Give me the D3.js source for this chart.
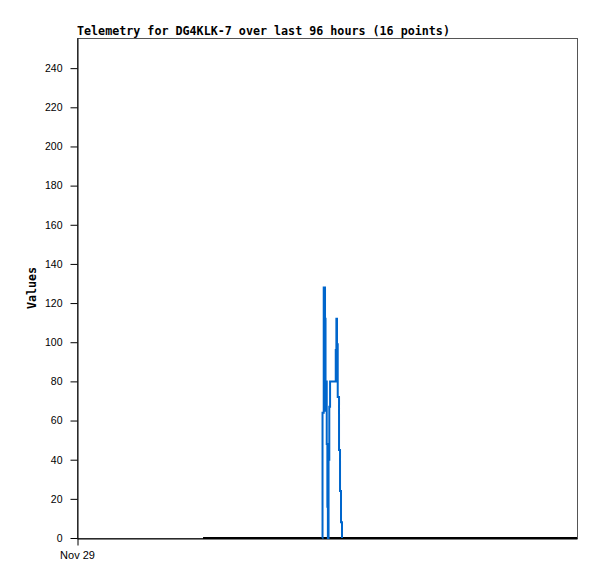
<!DOCTYPE html>
<html lang="en">
  <head>
    <meta charset="UTF-8" />
    <title>Telemetry</title>
    <script src="https://d3js.org/d3.v7.min.js"></script>
    <style>
      body {
        margin: 0;
        background: #fff;
      }
    </style>
  </head>
  <body>
    <div id="chart"></div>
    <script>
      // data: hours after Nov 29 00:00, telemetry values
      const startTime = new Date(2023, 10, 29, 0, 0);
      const spanHours = 96;
      const blueHours = [
        47.1, 47.14, 47.37, 47.62, 47.72, 47.85, 47.95, 48.07, 48.17, 48.3,
        48.44, 48.59, 49.68, 49.8, 49.92, 50.06, 50.31, 50.5, 50.69, 50.88,
      ];
      const blueValues = [
        0, 64, 128, 112, 65, 80, 48, 16, 0, 40, 67, 80, 96, 112, 99, 72, 45,
        24, 8, 0,
      ];
      const blackHours = [24.2, 96];
      const blackValues = [0, 0];
      const yTicks = [0, 20, 40, 60, 80, 100, 120, 140, 160, 180, 200, 220, 240];
      const xTickLabels = ["Nov 29"];

      const width = 597;
      const height = 579;
      const margin = { top: 38, right: 20, bottom: 41, left: 77 };
      const innerW = width - margin.left - margin.right;
      const innerH = height - margin.top - margin.bottom;

      const hourToDate = (h) => new Date(startTime.getTime() + h * 3600000);

      const x = d3
        .scaleTime()
        .domain([startTime, hourToDate(spanHours)])
        .range([0, innerW]);
      const y = d3.scaleLinear().domain([0, 255.4]).range([innerH, 0]);

      const svg = d3
        .select("#chart")
        .append("svg")
        .attr("width", width)
        .attr("height", height);

      const g = svg
        .append("g")
        .attr("transform", `translate(${margin.left},${margin.top})`);

      // frame
      g.append("rect")
        .attr("x", 0.5)
        .attr("y", 0.5)
        .attr("width", innerW)
        .attr("height", innerH)
        .attr("fill", "none")
        .attr("stroke", "#555");

      // title
      svg
        .append("text")
        .attr("x", margin.left)
        .attr("y", 35)
        .attr("font-family", "DejaVu Sans Mono, monospace")
        .attr("font-weight", "bold")
        .attr("font-size", "11.7px")
        .text("Telemetry for DG4KLK-7 over last 96 hours (16 points)");

      // y axis
      const yAxis = g
        .append("g")
        .attr("transform", "translate(0.5,0)")
        .call(d3.axisLeft(y).tickValues(yTicks).tickSize(7).tickPadding(8).tickSizeOuter(0));
      yAxis.select(".domain").attr("stroke", "#000");
      yAxis
        .selectAll("text")
        .attr("font-family", "Liberation Sans, Arial, sans-serif")
        .attr("font-size", "10.5px")
        .attr("fill", "#000");

      // x axis
      const xAxis = g
        .append("g")
        .attr("transform", `translate(0,${innerH + 0.5})`)
        .call(
          d3
            .axisBottom(x)
            .tickValues([startTime])
            .tickFormat((d, i) => xTickLabels[i])
            .tickSize(7)
            .tickPadding(6)
            .tickSizeOuter(0)
        );
      xAxis.select(".domain").attr("stroke", "#000");
      xAxis.selectAll(".tick line").attr("transform", "translate(0.5,0)");
      xAxis
        .selectAll("text")
        .attr("font-family", "Liberation Sans, Arial, sans-serif")
        .attr("font-size", "11px")
        .attr("fill", "#000");

      // y label
      svg
        .append("text")
        .attr("transform", "translate(36,288) rotate(-90)")
        .attr("text-anchor", "middle")
        .attr("font-family", "DejaVu Sans Mono, monospace")
        .attr("font-weight", "bold")
        .attr("font-size", "11.7px")
        .text("Values");

      const line = d3
        .line()
        .x((d) => x(hourToDate(d.h)))
        .y((d) => y(d.v))
        .curve(d3.curveStepAfter);

      const blackData = blackHours.map((h, i) => ({ h, v: blackValues[i] }));
      const blueData = blueHours.map((h, i) => ({ h, v: blueValues[i] }));

      g.append("path")
        .datum(blackData)
        .attr("d", line)
        .attr("fill", "none")
        .attr("stroke", "#000")
        .attr("stroke-width", 2);

      g.append("path")
        .datum(blueData)
        .attr("d", line)
        .attr("fill", "none")
        .attr("stroke", "#0066cc")
        .attr("stroke-width", 2);
    </script>
  </body>
</html>
